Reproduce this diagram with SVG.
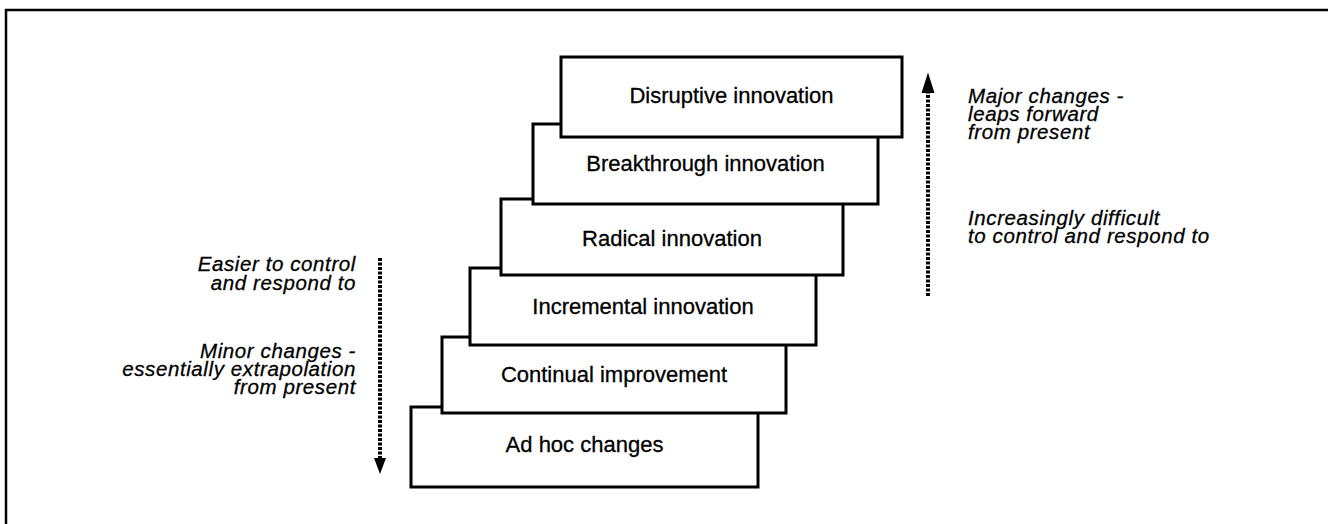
<svg xmlns="http://www.w3.org/2000/svg" width="1328" height="524" viewBox="0 0 1328 524">
<style>
.box{fill:#fff;stroke:#000;stroke-width:3}
.lbl{font-family:"Liberation Sans",Arial,sans-serif;font-size:22px;fill:#000;stroke:#000;stroke-width:0.3;text-anchor:middle}
.note{font-family:"Liberation Sans",Arial,sans-serif;font-size:20.5px;letter-spacing:0.6px;font-style:italic;fill:#000;stroke:#000;stroke-width:0.3}
.dot{stroke:#000;stroke-width:4;stroke-dasharray:3 1.5;fill:none}
</style>
<g id="frame">
<path d="M6,524 V10 H1328" fill="none" stroke="#000" stroke-width="2.5"/>
</g>
<g id="adhoc"><rect class="box" x="411" y="407" width="347" height="80"/><text class="lbl" x="584.5" y="452">Ad hoc changes</text></g>
<g id="continual"><rect class="box" x="442" y="337" width="344" height="76"/><text class="lbl" x="614" y="382">Continual improvement</text></g>
<g id="incremental"><rect class="box" x="470" y="268" width="346" height="77"/><text class="lbl" x="643" y="314">Incremental innovation</text></g>
<g id="radical"><rect class="box" x="501" y="199" width="342" height="76"/><text class="lbl" x="672" y="246">Radical innovation</text></g>
<g id="breakthrough"><rect class="box" x="533" y="124" width="345" height="80"/><text class="lbl" x="705.5" y="171">Breakthrough innovation</text></g>
<g id="disruptive"><rect class="box" x="561" y="57" width="341" height="80"/><text class="lbl" x="731.5" y="103">Disruptive innovation</text></g>
<g id="connectors">
<path class="dot" d="M928,296 V92" />
<path d="M921.5,93 L928,72.5 L934.5,93 Z" fill="#000"/>
<path class="dot" d="M380,258 V459" />
<path d="M374,458 L380,474 L386,458 Z" fill="#000"/>
</g>
<g id="right-notes">
<text class="note" x="968" y="103">Major changes -</text>
<text class="note" x="968" y="121">leaps forward</text>
<text class="note" x="968" y="139">from present</text>
<text class="note" x="968" y="225">Increasingly difficult</text>
<text class="note" x="968" y="243">to control and respond to</text>
</g>
<g id="left-notes" text-anchor="end">
<text class="note" x="356" y="271">Easier to control</text>
<text class="note" x="356" y="290">and respond to</text>
<text class="note" x="356" y="358">Minor changes -</text>
<text class="note" x="356" y="376">essentially extrapolation</text>
<text class="note" x="356" y="394">from present</text>
</g>
</svg>
